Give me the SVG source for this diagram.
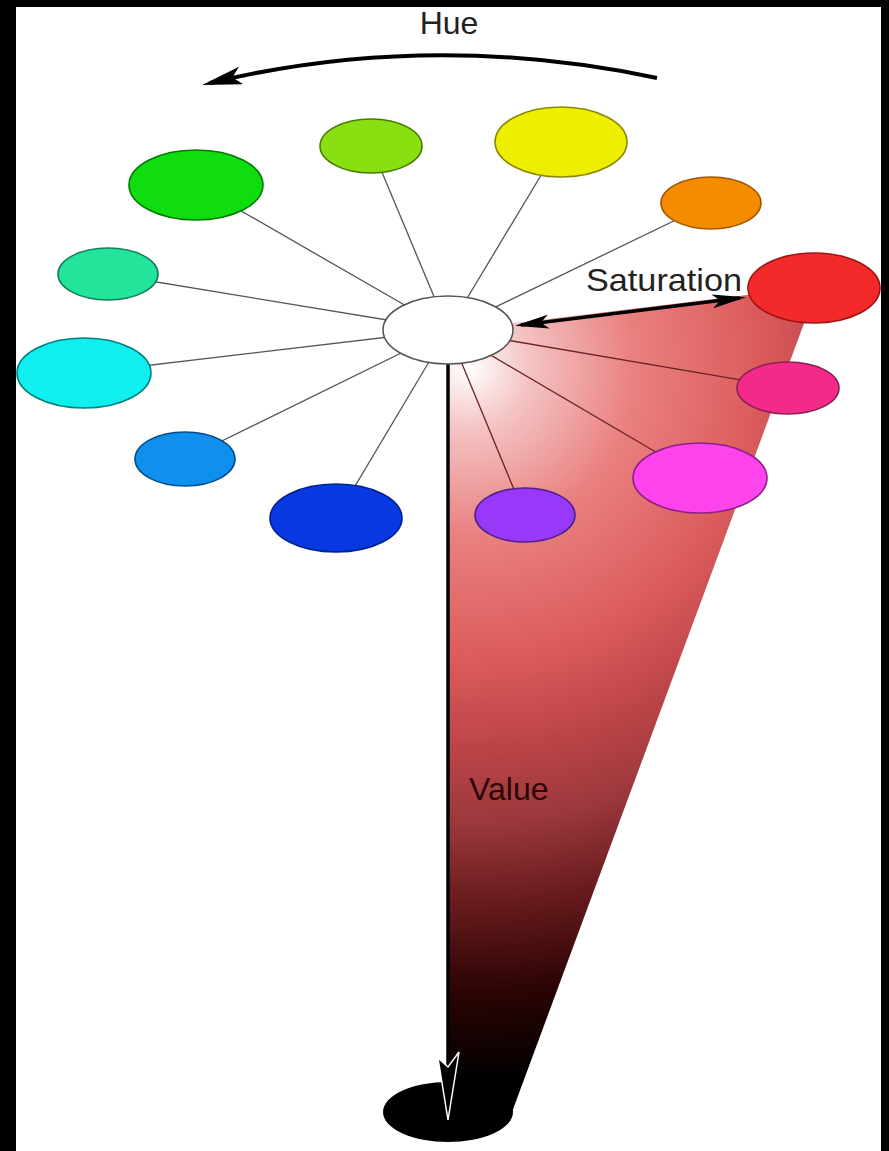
<svg xmlns="http://www.w3.org/2000/svg" width="889" height="1151" viewBox="0 0 889 1151">
<style>
.lbl{font-family:"Liberation Sans",Arial,sans-serif;font-size:32px;fill:#222}
.spoke{stroke:#555;stroke-width:1.3;fill:none}
.spoke-in{stroke:#6a2424;stroke-width:1.3;fill:none}
.node{stroke-width:1.6}
</style>
<defs>
<radialGradient id="cone" gradientUnits="userSpaceOnUse" cx="468" cy="368" r="760">
<stop offset="0" stop-color="#ffffff"/>
<stop offset="0.08" stop-color="#f4c4c4"/>
<stop offset="0.22" stop-color="#ea8080"/>
<stop offset="0.38" stop-color="#dc5c5c"/>
<stop offset="0.5" stop-color="#bc4448"/>
<stop offset="0.6" stop-color="#9a383c"/>
<stop offset="0.7" stop-color="#6a1c1e"/>
<stop offset="0.82" stop-color="#2c0404"/>
<stop offset="0.94" stop-color="#000000"/>
</radialGradient>
<marker id="barb" viewBox="0 0 34 14" refX="28" refY="7" markerWidth="34" markerHeight="14" orient="auto-start-reverse" markerUnits="userSpaceOnUse">
<path d="M34,7 L0,0 L8,7 L0,14 Z" fill="#000"/>
</marker>
<marker id="barb-lg" viewBox="0 0 40 18" refX="32" refY="9" markerWidth="40" markerHeight="18" orient="auto" markerUnits="userSpaceOnUse">
<path d="M40,9 L0,0 L9,9 L0,18 Z" fill="#000"/>
</marker>
</defs>
<rect x="0" y="0" width="889" height="1151" fill="#000"/>
<rect x="16" y="7" width="865" height="1144" fill="#fff"/>

<g id="cone-shape">
<path d="M448,331 L790,290 L806,318 L512,1112 L448,1112 Z" fill="url(#cone)"/>
<ellipse cx="448" cy="1112" rx="65" ry="30" fill="#000"/>
</g>

<g id="connectors">
<line class="spoke" x1="448" y1="330" x2="711" y2="203"/>
<line class="spoke" x1="448" y1="330" x2="561" y2="142"/>
<line class="spoke" x1="448" y1="330" x2="371" y2="146"/>
<line class="spoke" x1="448" y1="330" x2="196" y2="185"/>
<line class="spoke" x1="448" y1="330" x2="108" y2="274"/>
<line class="spoke" x1="448" y1="330" x2="84" y2="373"/>
<line class="spoke" x1="448" y1="330" x2="185" y2="459"/>
<line class="spoke" x1="448" y1="330" x2="336" y2="518"/>
<line class="spoke-in" x1="448" y1="330" x2="525" y2="516"/>
<line class="spoke-in" x1="448" y1="330" x2="700" y2="478"/>
<line class="spoke-in" x1="448" y1="330" x2="788" y2="388"/>
<path id="hue-arrow" d="M657,78 Q429,30 210,83" fill="none" stroke="#000" stroke-width="4" marker-end="url(#barb-lg)"/>
<line id="sat-arrow" x1="521" y1="325" x2="740" y2="298" stroke="#000" stroke-width="3.5" marker-start="url(#barb)" marker-end="url(#barb)"/>
<line id="value-arrow" x1="448" y1="364" x2="448" y2="1066" stroke="#000" stroke-width="3.5"/>
<path d="M448,1120 L438,1058 L448,1067 L459,1052 Z" fill="#000" stroke="#fff" stroke-width="1.5"/>
</g>

<g id="n-red"><ellipse class="node" cx="814" cy="288" rx="66" ry="35" fill="#f22a2a" stroke="#a01414"/></g>
<g id="n-orange"><ellipse class="node" cx="711" cy="203" rx="50" ry="26" fill="#f58c00" stroke="#a05a00"/></g>
<g id="n-yellow"><ellipse class="node" cx="561" cy="142" rx="66" ry="35" fill="#eeee00" stroke="#8a8a00"/></g>
<g id="n-chartreuse"><ellipse class="node" cx="371" cy="146" rx="51" ry="27" fill="#88e010" stroke="#4a7a00"/></g>
<g id="n-green"><ellipse class="node" cx="196" cy="185" rx="67" ry="35" fill="#10dd10" stroke="#007a00"/></g>
<g id="n-spring"><ellipse class="node" cx="108" cy="274" rx="50" ry="26" fill="#22e49a" stroke="#10805a"/></g>
<g id="n-cyan"><ellipse class="node" cx="84" cy="373" rx="67" ry="35" fill="#10eeee" stroke="#008080"/></g>
<g id="n-azure"><ellipse class="node" cx="185" cy="459" rx="50" ry="27" fill="#1090ee" stroke="#004e8a"/></g>
<g id="n-blue"><ellipse class="node" cx="336" cy="518" rx="66" ry="34" fill="#0838e0" stroke="#00208a"/></g>
<g id="n-violet"><ellipse class="node" cx="525" cy="515" rx="50" ry="27" fill="#9838f8" stroke="#50208a"/></g>
<g id="n-magenta"><ellipse class="node" cx="700" cy="478" rx="67" ry="35" fill="#ff44ee" stroke="#8a208a"/></g>
<g id="n-rose"><ellipse class="node" cx="788" cy="388" rx="51" ry="26" fill="#f42a8a" stroke="#8a2050"/></g>
<g id="n-center"><ellipse class="node" cx="448" cy="330" rx="65" ry="34" fill="#fff" stroke="#555"/></g>

<g id="labels">
<text class="lbl" x="449" y="34" text-anchor="middle">Hue</text>
<text class="lbl" x="586" y="291" textLength="156" lengthAdjust="spacingAndGlyphs">Saturation</text>
<text class="lbl" x="469" y="800" style="fill:#2a0606">Value</text>
</g>
</svg>
